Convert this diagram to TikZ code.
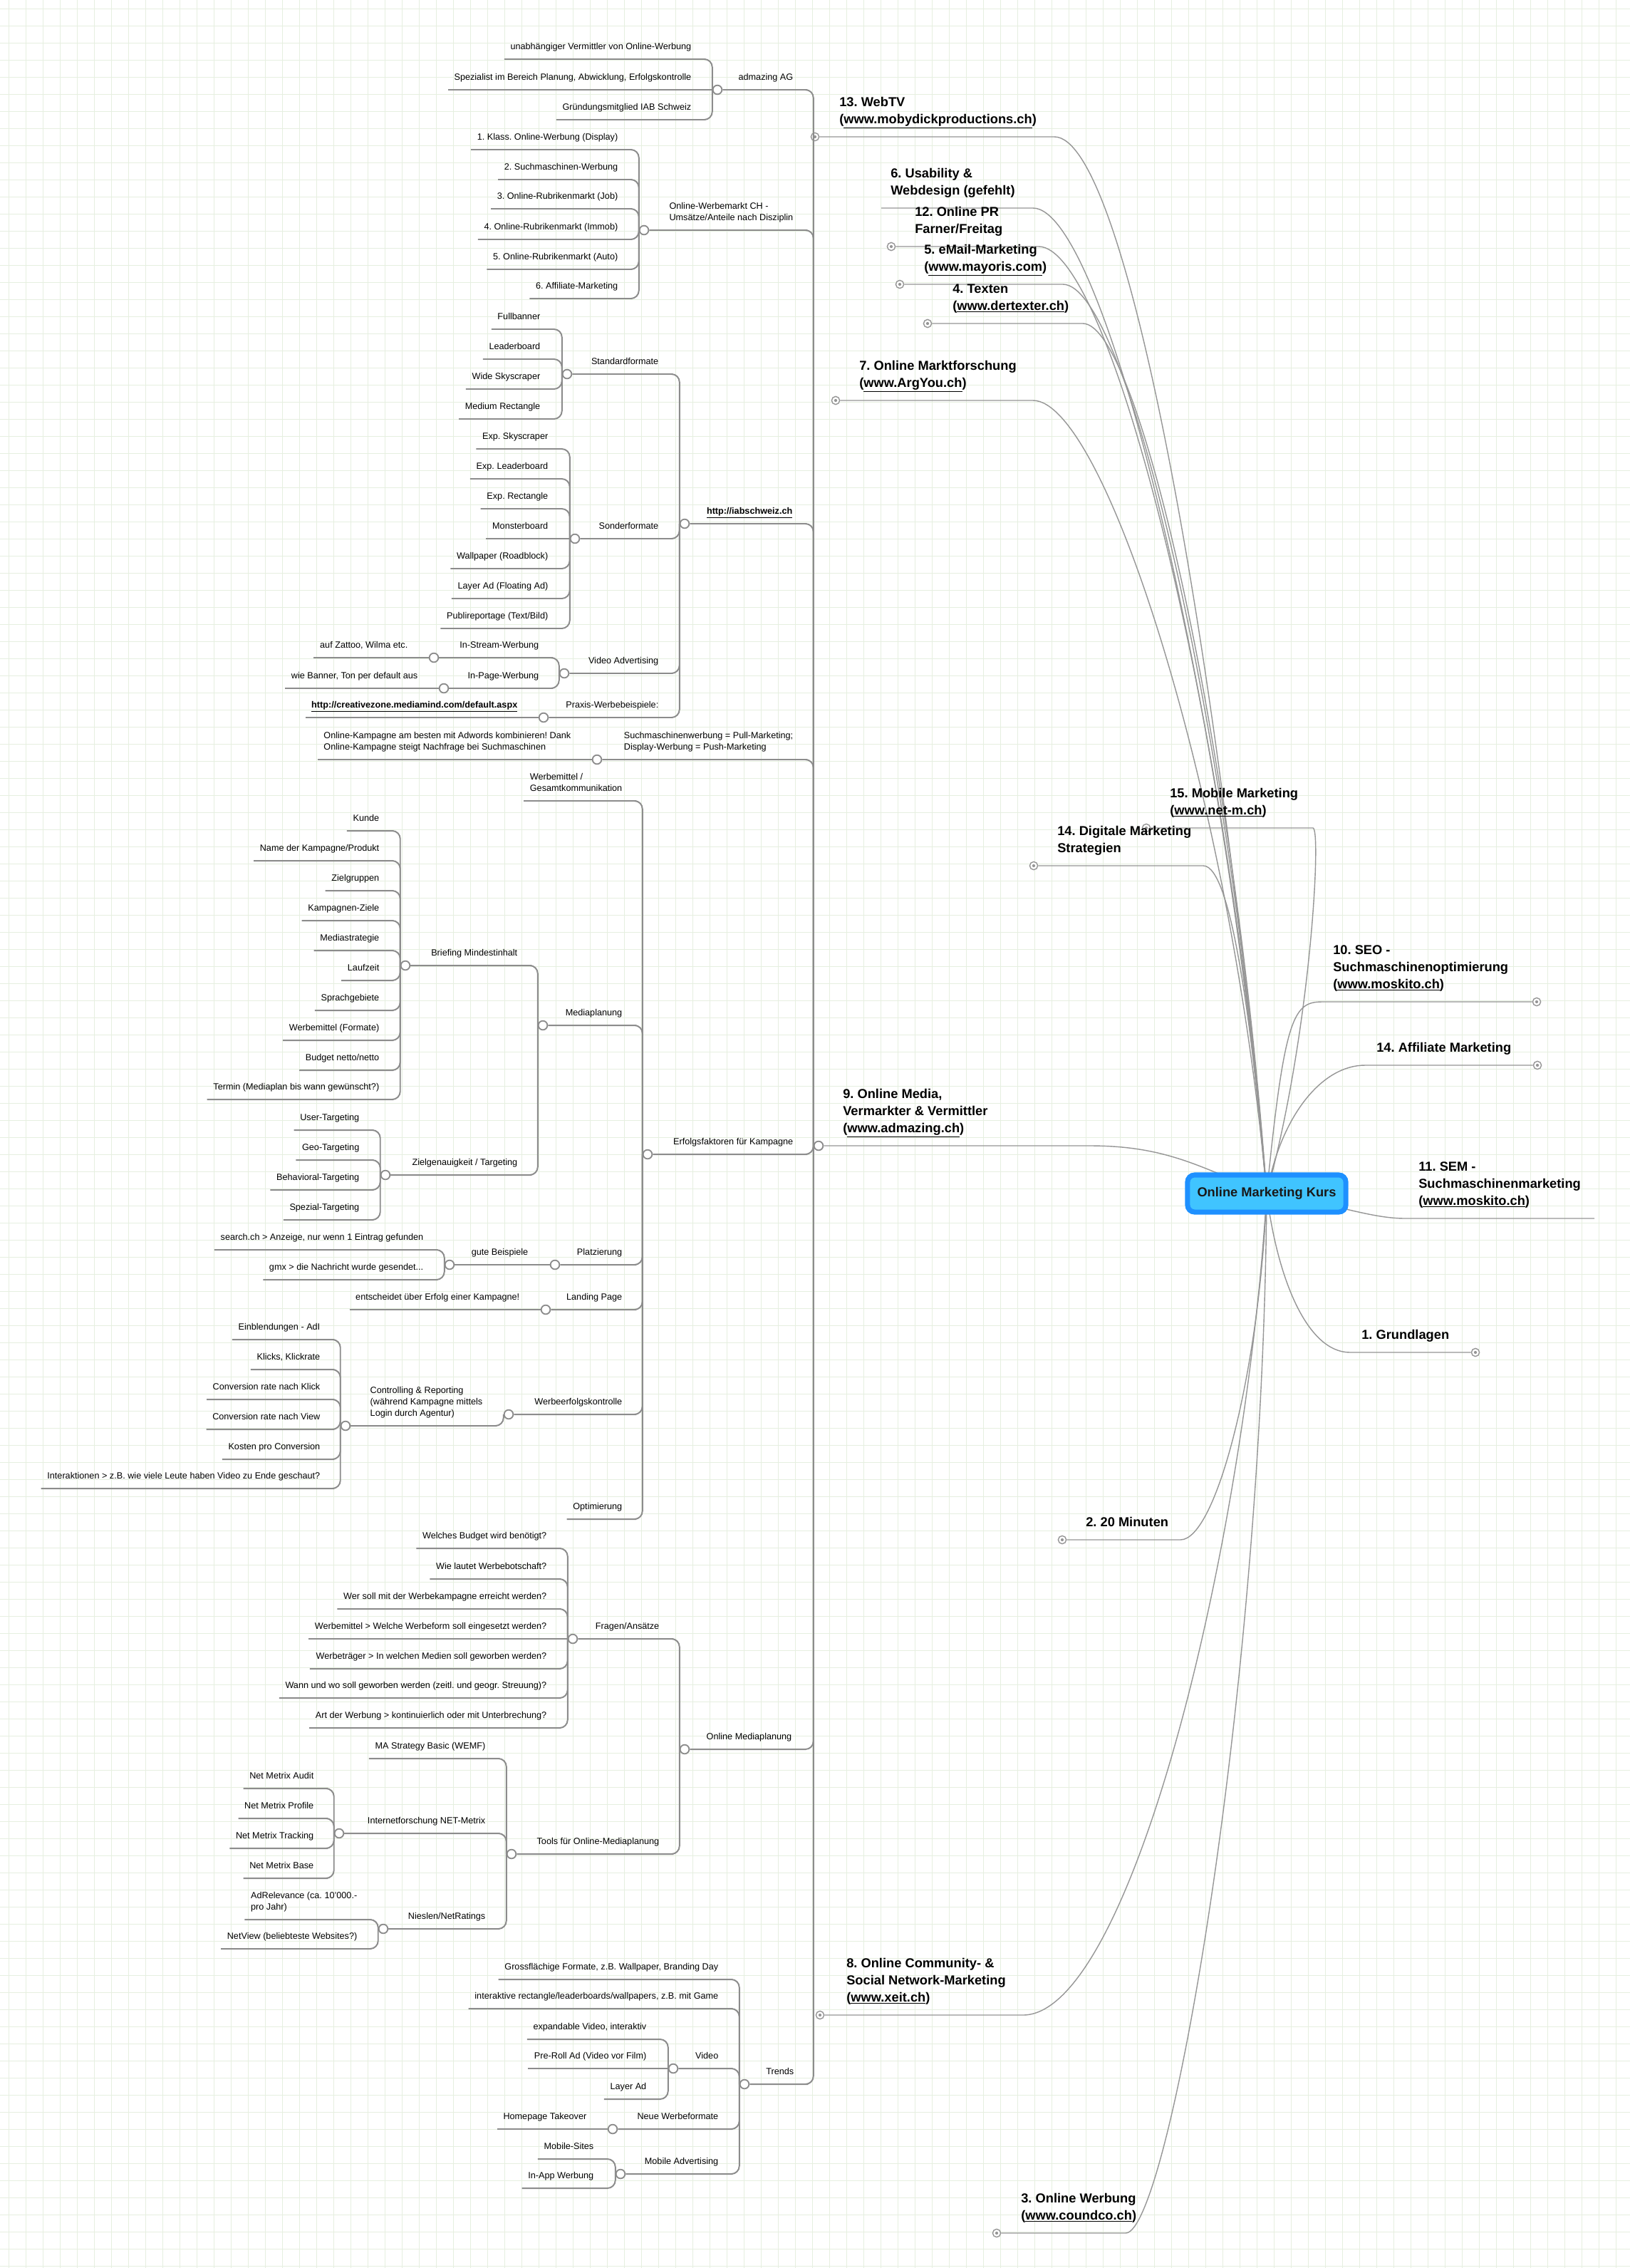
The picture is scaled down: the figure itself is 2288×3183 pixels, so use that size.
\documentclass[tikz,border=0pt]{standalone}
\usepackage{fontspec}
\setmainfont{Liberation Sans}
\frenchspacing
\definecolor{LineGray}{RGB}{140,140,140}
\definecolor{FoldGray}{RGB}{150,150,150}
\definecolor{GridGreen}{RGB}{230,239,224}
\definecolor{KursBlue}{RGB}{30,144,255}
\definecolor{KursFill}{RGB}{64,196,255}
\usetikzlibrary{positioning,calc,backgrounds}
\tikzset{>=latex}
\newcommand{\topicfont}{\fontsize{9}{11.4}\selectfont}
\newcommand{\branchfont}{\fontsize{13}{17}\selectfont\bfseries}
\tikzset{
  topic/.style={font=\topicfont, inner xsep=6pt, inner ysep=9.6pt, text depth=0pt, align=left, anchor=south east},
  branch/.style={font=\branchfont, inner sep=0pt, text depth=0pt, align=left, anchor=south west},
  hub/.style={circle, draw=LineGray, fill=white, line width=1.3pt, minimum size=9pt, inner sep=0pt},
  fold/.style={circle, draw=FoldGray, fill=white, line width=1pt, minimum size=8pt, inner sep=0pt,
    path picture={\fill[FoldGray] (path picture bounding box.center) circle (1.5pt);}},
  link/.style={draw=LineGray, line width=1.4pt, rounded corners=8pt},
  mainlink/.style={draw=FoldGray, line width=1pt},
}

\begin{document}
\begin{tikzpicture}[x=0.025cm,y=-0.025cm]
        \useasboundingbox (0,0) rectangle (2288,3183);
        \coordinate (kc) at (1778,1675);

        % main branches: markers, labels
        \node[fold] at (1144,192) (f13) {};
        \node[branch] at (1178,173.5) (b13) {13. WebTV\\(\underline{www.mobydickproductions.ch})};
        \node[branch] at (1250,273.5) (b6) {6. Usability \&\\Webdesign (gefehlt)};
        \node[fold] at (1251,346) (f12) {};
        \node[branch] at (1284,327.5) (b12) {12. Online PR\\Farner/Freitag};
        \node[fold] at (1263,399) (f5) {};
        \node[branch] at (1297,380.5) (b5) {5. eMail-Marketing\\(\underline{www.mayoris.com})};
        \node[fold] at (1302,454) (f4) {};
        \node[branch] at (1337,435.5) (b4) {4. Texten\\(\underline{www.dertexter.ch})};
        \node[fold] at (1173,562) (f7) {};
        \node[branch] at (1206,543.5) (b7) {7. Online Marktforschung\\(\underline{www.ArgYou.ch})};
        \node[fold] at (1609,1162) (f15) {};
        \node[branch] at (1642,1143.5) (b15) {15. Mobile Marketing\\(\underline{www.net-m.ch})};
        \node[fold] at (1451,1215) (f14d) {};
        \node[branch] at (1484,1196.5) (b14d) {14. Digitale Marketing\\Strategien};
        \node[fold] at (2157,1406) (f10) {};
        \node[branch] at (1871,1387.5) (b10) {10. SEO -\\Suchmaschinenoptimierung\\(\underline{www.moskito.ch})};
        \node[fold] at (2158,1495) (f14a) {};
        \node[branch] at (1932,1476.5) (b14a) {14. Affiliate Marketing};
        \node[branch] at (1991,1691.5) (b11) {11. SEM -\\Suchmaschinenmarketing\\(\underline{www.moskito.ch})};
        \node[fold] at (2071,1898) (f1) {};
        \node[branch] at (1911,1879.5) (b1) {1. Grundlagen};
        \node[fold] at (1491,2161) (f2) {};
        \node[branch] at (1524,2142.5) (b2) {2. 20 Minuten};
        \node[fold] at (1151,2828) (f8) {};
        \node[branch] at (1188,2809.5) (b8) {8. Online Community- \&\\Social Network-Marketing\\(\underline{www.xeit.ch})};
        \node[fold] at (1399,3134) (f3) {};
        \node[branch] at (1433,3115.5) (b3) {3. Online Werbung\\(\underline{www.coundco.ch})};
        \node[hub] at (1149,1608) (h9) {};
        \node[branch] at (1183,1589.5) (b9) {9. Online Media,\\Vermarkter \& Vermittler\\(\underline{www.admazing.ch})};

        \begin{scope}[on background layer]
            \fill[white] (0,0) rectangle (2288,3183);
            \foreach \gx in {12,36,...,2288} \draw[GridGreen, line width=0.5pt] (\gx,0) -- (\gx,3183);
            \foreach \gy in {12,36,...,3183} \draw[GridGreen, line width=0.5pt] (0,\gy) -- (2288,\gy);
            \draw[mainlink] (f13.east) -- (1480,192) .. controls +(100,0) and +(-70,-780) .. (kc);
            \draw[mainlink] (1237,292) -- (1450,292) .. controls +(100,0) and +(-60,-700) .. (kc);
            \draw[mainlink] (f12.east) -- (1458,346) .. controls +(100,0) and +(-55,-680) .. (kc);
            \draw[mainlink] (f5.east) -- (1492,399) .. controls +(90,0) and +(-50,-650) .. (kc);
            \draw[mainlink] (f4.east) -- (1520,454) .. controls +(80,0) and +(-45,-620) .. (kc);
            \draw[mainlink] (f7.east) -- (1450,562) .. controls +(100,0) and +(-50,-560) .. (kc);
            \draw[mainlink] (f15.east) -- (1843,1162) .. controls +(12,0) and +(62,-225) .. (kc);
            \draw[mainlink] (f14d.east) -- (1689,1215) .. controls +(40,0) and +(-20,-230) .. (kc);
            \draw[mainlink] (f10.west) -- (1856,1406) .. controls +(-40,0) and +(25,-250) .. (kc);
            \draw[mainlink] (f14a.west) -- (1916,1495) .. controls +(-60,0) and +(20,-110) .. (kc);
            \draw[mainlink] (2238,1710) -- (1973,1710) .. controls +(-50,0) and +(100,15) .. (kc);
            \draw[mainlink] (f1.west) -- (1895,1898) .. controls +(-60,0) and +(15,120) .. (kc);
            \draw[mainlink] (f2.east) -- (1657,2161) .. controls +(50,0) and +(-10,250) .. (kc);
            \draw[mainlink] (f8.east) -- (1436,2828) .. controls +(150,0) and +(-30,500) .. (kc);
            \draw[mainlink] (f3.east) -- (1580,3134) .. controls +(60,0) and +(-5,700) .. (kc);
            \draw[mainlink] (h9.east) -- (1530,1608) .. controls +(110,0) and +(-90,-35) .. (kc);
        \end{scope}

        \node[draw=KursBlue, fill=KursFill, line width=5pt, rounded corners=7pt, minimum width=158pt,
              minimum height=37pt, font=\branchfont, text=black!90] at (kc) (kurs) {Online Marketing Kurs};

        % admazing AG
        \node[hub] at (1007,126) (adm) {};
        \node[topic] at (1122,126) (admT) {admazing AG};
        \draw[link] (adm.east) -- (admT.south east) -| (h9.west);
        \node[topic] at (979,83) (adm1) {unabhängiger Vermittler von Online-Werbung};
        \node[topic] at (979,126) (adm2) {Spezialist im Bereich Planung, Abwicklung, Erfolgskontrolle};
        \node[topic] at (979,168) (adm3) {Gründungsmitglied IAB Schweiz};
        \draw[link] (adm1.south west) -- (adm1.south east) -| (adm.west);
        \draw[link] (adm2.south west) -- (adm.west);
        \draw[link] (adm3.south west) -- (adm3.south east) -| (adm.west);

        % Online-Werbemarkt CH
        \node[hub] at (904,323) (wm) {};
        \node[topic] at (1122,323) (wmT) {Online-Werbemarkt CH -\\Umsätze/Anteile nach Disziplin};
        \draw[link] (wm.east) -- (wmT.south east) -| (h9.west);
        \foreach \ty/\txt [count=\i] in {210/{1. Klass. Online-Werbung (Display)}, 252/{2. Suchmaschinen-Werbung},
            293/{3. Online-Rubrikenmarkt (Job)}, 336/{4. Online-Rubrikenmarkt (Immob)},
            378/{5. Online-Rubrikenmarkt (Auto)}, 419/{6. Affiliate-Marketing}}
          {\node[topic] at (876,\ty) (wm\i) {\txt};
           \draw[link] (wm\i.south west) -- (wm\i.south east) -| (wm.west);}

        % iabschweiz
        \node[hub] at (961,735) (iab) {};
        \node[topic, font=\topicfont\bfseries] at (1121,735) (iabT) {\underline{http://iabschweiz.ch}};
        \draw[link] (iab.east) -- (iabT.south east) -| (h9.west);

        \node[hub] at (796,525) (std) {};
        \node[topic] at (933,525) (stdT) {Standardformate};
        \draw[link] (std.east) -- (stdT.south east) -| (iab.west);
        \foreach \ty/\txt [count=\i] in {462/{Fullbanner}, 504/{Leaderboard}, 546/{Wide Skyscraper}, 588/{Medium Rectangle}}
          {\node[topic] at (767,\ty) (std\i) {\txt};
           \draw[link] (std\i.south west) -- (std\i.south east) -| (std.west);}

        \node[hub] at (807,756) (sof) {};
        \node[topic] at (933,756) (sofT) {Sonderformate};
        \draw[link] (sof.east) -- (sofT.south east) -| (iab.west);
        \foreach \ty/\txt [count=\i] in {630/{Exp. Skyscraper}, 672/{Exp. Leaderboard}, 714/{Exp. Rectangle},
            798/{Wallpaper (Roadblock)}, 840/{Layer Ad (Floating Ad)}, 882/{Publireportage (Text/Bild)}}
          {\node[topic] at (778,\ty) (sof\i) {\txt};
           \draw[link] (sof\i.south west) -- (sof\i.south east) -| (sof.west);}
        \node[topic] at (778,756) (sofM) {Monsterboard};
        \draw[link] (sofM.south west) -- (sof.west);

        \node[hub] at (792,945) (vid) {};
        \node[topic] at (933,945) (vidT) {Video Advertising};
        \draw[link] (vid.east) -- (vidT.south east) -| (iab.west);
        \node[hub] at (609,923) (ist) {};
        \node[topic] at (765,923) (istT) {In-Stream-Werbung};
        \draw[link] (ist.east) -- (istT.south east) -| (vid.west);
        \node[topic] at (581,923) (ist1) {auf Zattoo, Wilma etc.};
        \draw[link] (ist1.south west) -- (ist.west);
        \node[hub] at (623,966) (ipw) {};
        \node[topic] at (765,966) (ipwT) {In-Page-Werbung};
        \draw[link] (ipw.east) -- (ipwT.south east) -| (vid.west);
        \node[topic] at (595,966) (ipw1) {wie Banner, Ton per default aus};
        \draw[link] (ipw1.south west) -- (ipw.west);

        \node[hub] at (763,1007) (prx) {};
        \node[topic] at (933,1007) (prxT) {Praxis-Werbebeispiele:};
        \draw[link] (prx.east) -- (prxT.south east) -| (iab.west);
        \node[topic, font=\topicfont\bfseries] at (735,1007) (prx1) {\underline{http://creativezone.mediamind.com/default.aspx}};
        \draw[link] (prx1.south west) -- (prx.west);

        % Suchmaschinenwerbung
        \node[hub] at (838,1066) (smw) {};
        \node[topic] at (1122,1066) (smwT) {Suchmaschinenwerbung = Pull-Marketing;\\Display-Werbung = Push-Marketing};
        \draw[link] (smw.east) -- (smwT.south east) -| (h9.west);
        \node[topic] at (810,1066) (smw1) {Online-Kampagne am besten mit Adwords kombinieren! Dank\\Online-Kampagne steigt Nachfrage bei Suchmaschinen};
        \draw[link] (smw1.south west) -- (smw.west);

        % Erfolgsfaktoren
        \node[hub] at (909,1620) (erf) {};
        \node[topic] at (1122,1620) (erfT) {Erfolgsfaktoren für Kampagne};
        \draw[link] (erf.east) -- (erfT.south east) -| (h9.west);
        \node[topic] at (882,1124) (erf1) {Werbemittel /\\Gesamtkommunikation};
        \draw[link] (erf1.south west) -- (erf1.south east) -| (erf.west);

        \node[hub] at (762,1439) (mp) {};
        \node[topic] at (882,1439) (mpT) {Mediaplanung};
        \draw[link] (mp.east) -- (mpT.south east) -| (erf.west);
        \node[hub] at (569,1355) (brf) {};
        \node[topic] at (735,1355) (brfT) {Briefing Mindestinhalt};
        \draw[link] (brf.east) -- (brfT.south east) -| (mp.west);
        \foreach \ty/\txt [count=\i] in {1166/{Kunde}, 1208/{Name der Kampagne/Produkt}, 1250/{Zielgruppen},
            1292/{Kampagnen-Ziele}, 1334/{Mediastrategie}, 1376/{Laufzeit}, 1418/{Sprachgebiete},
            1460/{Werbemittel (Formate)}, 1502/{Budget netto/netto}, 1543/{Termin (Mediaplan bis wann gewünscht?)}}
          {\node[topic] at (541,\ty) (brf\i) {\txt};
           \draw[link] (brf\i.south west) -- (brf\i.south east) -| (brf.west);}
        \node[hub] at (541,1649) (zg) {};
        \node[topic] at (735,1649) (zgT) {Zielgenauigkeit / Targeting};
        \draw[link] (zg.east) -- (zgT.south east) -| (mp.west);
        \foreach \ty/\txt [count=\i] in {1586/{User-Targeting}, 1628/{Geo-Targeting}, 1670/{Behavioral-Targeting}, 1712/{Spezial-Targeting}}
          {\node[topic] at (513,\ty) (zg\i) {\txt};
           \draw[link] (zg\i.south west) -- (zg\i.south east) -| (zg.west);}

        \node[hub] at (779,1775) (plz) {};
        \node[topic] at (882,1775) (plzT) {Platzierung};
        \draw[link] (plz.east) -- (plzT.south east) -| (erf.west);
        \node[hub] at (631,1775) (gb) {};
        \node[topic] at (750,1775) (gbT) {gute Beispiele};
        \draw[link] (gb.east) -- (plz.west);
        \node[topic] at (603,1754) (gb1) {search.ch > Anzeige, nur wenn 1 Eintrag gefunden};
        \node[topic] at (603,1796) (gb2) {gmx > die Nachricht wurde gesendet...};
        \draw[link] (gb1.south west) -- (gb1.south east) -| (gb.west);
        \draw[link] (gb2.south west) -- (gb2.south east) -| (gb.west);

        \node[hub] at (766,1838) (lp) {};
        \node[topic] at (882,1838) (lpT) {Landing Page};
        \draw[link] (lp.east) -- (lpT.south east) -| (erf.west);
        \node[topic] at (738,1838) (lp1) {entscheidet über Erfolg einer Kampagne!};
        \draw[link] (lp1.south west) -- (lp.west);

        \node[hub] at (714,1985) (wek) {};
        \node[topic] at (882,1985) (wekT) {Werbeerfolgskontrolle};
        \draw[link] (wek.east) -- (wekT.south east) -| (erf.west);
        \node[hub] at (485,2001) (ctl) {};
        \node[topic] at (686,2001) (ctlT) {Controlling \& Reporting\\(während Kampagne mittels\\Login durch Agentur)};
        \draw[link] (ctl.east) -- (ctlT.south east) -| (wek.west);
        \foreach \ty/\txt [count=\i] in {1880/{Einblendungen - AdI}, 1922/{Klicks, Klickrate}, 1964/{Conversion rate nach Klick},
            2006/{Conversion rate nach View}, 2048/{Kosten pro Conversion},
            2089/{Interaktionen > z.B. wie viele Leute haben Video zu Ende geschaut?}}
          {\node[topic] at (458,\ty) (ctl\i) {\txt};
           \draw[link] (ctl\i.south west) -- (ctl\i.south east) -| (ctl.west);}
        \node[topic] at (882,2132) (opt) {Optimierung};
        \draw[link] (opt.south west) -- (opt.south east) -| (erf.west);

        % Online Mediaplanung
        \node[hub] at (961,2455) (omp) {};
        \node[topic] at (1120,2455) (ompT) {Online Mediaplanung};
        \draw[link] (omp.east) -- (ompT.south east) -| (h9.west);
        \node[hub] at (804,2300) (fra) {};
        \node[topic] at (934,2300) (fraT) {Fragen/Ansätze};
        \draw[link] (fra.east) -- (fraT.south east) -| (omp.west);
        \foreach \ty/\txt [count=\i] in {2173/{Welches Budget wird benötigt?}, 2216/{Wie lautet Werbebotschaft?},
            2258/{Wer soll mit der Werbekampagne erreicht werden?},
            2342/{Werbeträger > In welchen Medien soll geworben werden?},
            2383/{Wann und wo soll geworben werden (zeitl. und geogr. Streuung)?},
            2425/{Art der Werbung > kontinuierlich oder mit Unterbrechung?}}
          {\node[topic] at (776,\ty) (fra\i) {\txt};
           \draw[link] (fra\i.south west) -- (fra\i.south east) -| (fra.west);}
        \node[topic] at (776,2300) (fraW) {Werbemittel > Welche Werbeform soll eingesetzt werden?};
        \draw[link] (fraW.south west) -- (fra.west);

        \node[hub] at (718,2602) (tls) {};
        \node[topic] at (934,2602) (tlsT) {Tools für Online-Mediaplanung};
        \draw[link] (tls.east) -- (tlsT.south east) -| (omp.west);
        \node[topic] at (690,2468) (tls1) {MA Strategy Basic (WEMF)};
        \draw[link] (tls1.south west) -- (tls1.south east) -| (tls.west);
        \node[hub] at (476,2573) (nmx) {};
        \node[topic] at (690,2573) (nmxT) {Internetforschung NET-Metrix};
        \draw[link] (nmx.east) -- (nmxT.south east) -| (tls.west);
        \foreach \ty/\txt [count=\i] in {2510/{Net Metrix Audit}, 2552/{Net Metrix Profile}, 2594/{Net Metrix Tracking}, 2636/{Net Metrix Base}}
          {\node[topic] at (449,\ty) (nmx\i) {\txt};
           \draw[link] (nmx\i.south west) -- (nmx\i.south east) -| (nmx.west);}
        \node[hub] at (538,2707) (nsn) {};
        \node[topic] at (690,2707) (nsnT) {Nieslen/NetRatings};
        \draw[link] (nsn.east) -- (nsnT.south east) -| (tls.west);
        \node[topic] at (510,2694) (nsn1) {AdRelevance (ca. 10'000.-\\pro Jahr)};
        \node[topic] at (510,2735) (nsn2) {NetView (beliebteste Websites?)};
        \draw[link] (nsn1.south west) -- (nsn1.south east) -| (nsn.west);
        \draw[link] (nsn2.south west) -- (nsn2.south east) -| (nsn.west);

        % Trends
        \node[hub] at (1045,2925) (trd) {};
        \node[topic] at (1123,2925) (trdT) {Trends};
        \draw[link] (trd.east) -- (trdT.south east) -| (h9.west);
        \node[topic] at (1017,2778) (trd1) {Grossflächige Formate, z.B. Wallpaper, Branding Day};
        \node[topic] at (1017,2819) (trd2) {interaktive rectangle/leaderboards/wallpapers, z.B. mit Game};
        \draw[link] (trd1.south west) -- (trd1.south east) -| (trd.west);
        \draw[link] (trd2.south west) -- (trd2.south east) -| (trd.west);
        \node[hub] at (945,2903) (tvid) {};
        \node[topic] at (1017,2903) (tvidT) {Video};
        \draw[link] (tvid.east) -- (tvidT.south east) -| (trd.west);
        \node[topic] at (916,2862) (tvid1) {expandable Video, interaktiv};
        \node[topic] at (916,2903) (tvid2) {Pre-Roll Ad (Video vor Film)};
        \node[topic] at (916,2946) (tvid3) {Layer Ad};
        \draw[link] (tvid1.south west) -- (tvid1.south east) -| (tvid.west);
        \draw[link] (tvid2.south west) -- (tvid.west);
        \draw[link] (tvid3.south west) -- (tvid3.south east) -| (tvid.west);
        \node[hub] at (860,2988) (nwf) {};
        \node[topic] at (1017,2988) (nwfT) {Neue Werbeformate};
        \draw[link] (nwf.east) -- (nwfT.south east) -| (trd.west);
        \node[topic] at (832,2988) (nwf1) {Homepage Takeover};
        \draw[link] (nwf1.south west) -- (nwf.west);
        \node[hub] at (871,3051) (mad) {};
        \node[topic] at (1017,3051) (madT) {Mobile Advertising};
        \draw[link] (mad.east) -- (madT.south east) -| (trd.west);
        \node[topic] at (842,3030) (mad1) {Mobile-Sites};
        \node[topic] at (842,3071) (mad2) {In-App Werbung};
        \draw[link] (mad1.south west) -- (mad1.south east) -| (mad.west);
        \draw[link] (mad2.south west) -- (mad2.south east) -| (mad.west);
    \end{tikzpicture}
\end{document}
